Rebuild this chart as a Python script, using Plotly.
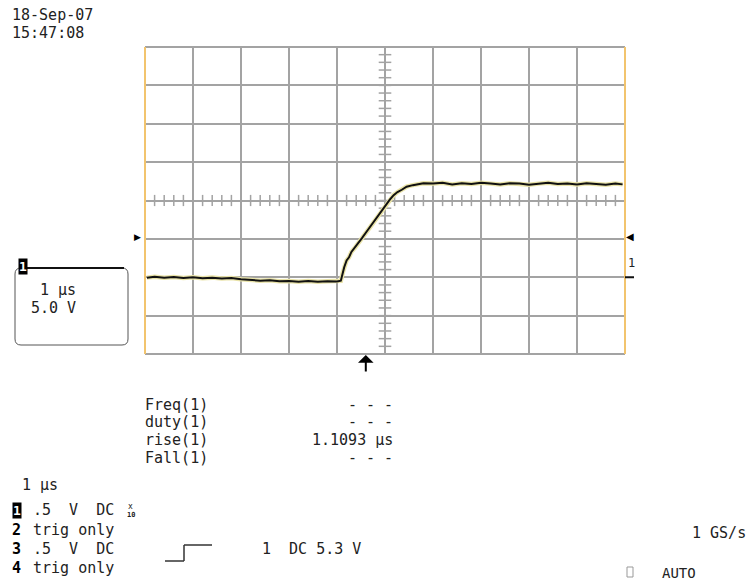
import plotly.graph_objects as go

# ---- data (time in µs, voltage in V) ----
time_us = [-4.96, -4.8, -4.6, -4.4, -4.2, -4.0, -3.8, -3.6, -3.4, -3.2, -3.0, -2.8,
           -2.6, -2.4, -2.2, -2.0, -1.8, -1.6, -1.4, -1.2, -1.0, -0.92, -0.88, -0.85,
           -0.80, -0.75, -0.70, -0.62, -0.55, -0.48, -0.40, -0.32, -0.25, -0.18, -0.10,
           -0.04, 0.02, 0.10, 0.18, 0.26, 0.35, 0.45, 0.58, 0.70, 0.80, 1.0, 1.2, 1.4,
           1.6, 1.8, 2.0, 2.2, 2.4, 2.6, 2.8, 3.0, 3.2, 3.4, 3.6, 3.8, 4.0, 4.2, 4.4,
           4.6, 4.8, 4.95]
volts = [-0.05, 0.05, -0.08, 0.02, -0.10, 0.00, -0.12, -0.05, -0.15, -0.10, -0.25, -0.35,
         -0.45, -0.40, -0.52, -0.48, -0.58, -0.50, -0.60, -0.52, -0.55, -0.45, 0.60, 1.30,
         2.20, 2.60, 3.30, 3.90, 4.50, 5.10, 5.80, 6.50, 7.00, 7.70, 8.40,
         9.00, 9.50, 10.10, 10.70, 11.10, 11.40, 11.80, 12.00, 12.15, 12.25, 12.20, 12.30, 12.10,
         12.25, 12.15, 12.30, 12.20, 12.10, 12.25, 12.20, 12.05, 12.20, 12.30, 12.15, 12.20, 12.10, 12.25, 12.15,
         12.05, 12.20, 12.10]

time_range = [-5, 5]          # 1 µs/div, 10 divisions
volt_range = [-10, 30]        # 5 V/div, 8 divisions, ground 2 div below centre
trigger_level = 5.3
trigger_time = -0.4

minor_x = [round(-5 + 0.2 * i, 2) for i in range(51)]
minor_y = [round(-10 + 1.0 * i, 2) for i in range(41)]

FONT = "DejaVu Sans Mono"
FS = 15
GRID = "#a3a3a3"
EDGE = "#f2c46e"

# plot area in pixels
L, R, T, B = 145, 625, 47, 354
W, H = 750, 581


def px(x):
    return (x - L) / (R - L)


def py(y):
    return (B - y) / (B - T)


fig = go.Figure()

# centre-axis minor ticks
fig.add_trace(go.Scatter(x=minor_x, y=[10] * len(minor_x), mode="markers",
                         marker=dict(symbol="line-ns", size=8, line=dict(width=1.5, color=GRID)),
                         hoverinfo="skip", showlegend=False))
fig.add_trace(go.Scatter(x=[0] * len(minor_y), y=minor_y, mode="markers",
                         marker=dict(symbol="line-ew", size=9, line=dict(width=1.5, color=GRID)),
                         hoverinfo="skip", showlegend=False))

# waveform (yellowish halo + black trace)
fig.add_trace(go.Scatter(x=time_us, y=volts, mode="lines",
                         line=dict(color="#e9e3a8", width=4.5), hoverinfo="skip", showlegend=False))
fig.add_trace(go.Scatter(x=time_us, y=volts, mode="lines",
                         line=dict(color="#111111", width=2), showlegend=False))

shapes = []
# borders
shapes.append(dict(type="line", xref="paper", yref="paper", x0=0, x1=1, y0=1, y1=1,
                   line=dict(color=GRID, width=2)))
shapes.append(dict(type="line", xref="paper", yref="paper", x0=0, x1=1, y0=0, y1=0,
                   line=dict(color=GRID, width=2)))
shapes.append(dict(type="line", xref="paper", yref="paper", x0=0, x1=0, y0=0, y1=1,
                   line=dict(color=EDGE, width=2)))
shapes.append(dict(type="line", xref="paper", yref="paper", x0=1, x1=1, y0=0, y1=1,
                   line=dict(color=EDGE, width=2)))

# channel box with rounded corners
bx0, bx1, by0, by1, r = 15, 128, 268, 345, 6
path = (f"M {px(bx0 + r)} {py(by0)} L {px(bx1 - r)} {py(by0)} "
        f"Q {px(bx1)} {py(by0)} {px(bx1)} {py(by0 + r)} "
        f"L {px(bx1)} {py(by1 - r)} Q {px(bx1)} {py(by1)} {px(bx1 - r)} {py(by1)} "
        f"L {px(bx0 + r)} {py(by1)} Q {px(bx0)} {py(by1)} {px(bx0)} {py(by1 - r)} "
        f"L {px(bx0)} {py(by0 + r)} Q {px(bx0)} {py(by0)} {px(bx0 + r)} {py(by0)} Z")
shapes.append(dict(type="path", xref="paper", yref="paper", path=path,
                   line=dict(color="#555555", width=1)))
shapes.append(dict(type="line", xref="paper", yref="paper", x0=px(26), x1=px(124), y0=py(268), y1=py(268),
                   line=dict(color="#111111", width=2)))

# trigger step symbol
for (x0, y0, x1, y1) in [(165, 561, 184, 561), (184, 561, 184, 545), (184, 545, 212, 545)]:
    shapes.append(dict(type="line", xref="paper", yref="paper", x0=px(x0), y0=py(y0), x1=px(x1), y1=py(y1),
                       line=dict(color="#333333", width=1.5)))
# ground marker dash on right
shapes.append(dict(type="line", xref="paper", yref="y", x0=px(625), x1=px(634), y0=0, y1=0,
                   line=dict(color="#111111", width=2)))
# AUTO box
shapes.append(dict(type="rect", xref="paper", yref="paper", x0=px(627), x1=px(633), y0=py(567), y1=py(577),
                   line=dict(color="#999999", width=1)))

ann = []


def txt(x, y, s, anchor="left", size=FS, bold=False, color="#222222", bg=None):
    d = dict(x=px(x), y=py(y), xref="paper", yref="paper", text=f"<b>{s}</b>" if bold else s,
             showarrow=False, xanchor=anchor, yanchor="middle",
             font=dict(family=FONT, size=size, color=color))
    if bg:
        d["bgcolor"] = bg
        d["borderpad"] = 0
    ann.append(d)


txt(10, 15, "18-Sep-07")
txt(10, 33, "15:47:08")
# channel box
txt(18, 266, "1", size=13, bold=True, color="#ffffff", bg="#000000")
txt(78, 290, "1 µs", anchor="right")
txt(78, 308, "5.0 V", anchor="right")
# measurements
for i, (lab, val) in enumerate([("Freq(1)", "- - -"), ("duty(1)", "- - -"),
                                ("rise(1)", "1.1093 µs"), ("Fall(1)", "- - -")]):
    yy = 405 + 17.5 * i
    txt(143, yy, lab)
    txt(395, yy, val, anchor="right")
# bottom status
txt(20, 485, "1 µs")
rows = [("1", ".5  V  DC"), ("2", "trig only"), ("3", ".5  V  DC"), ("4", "trig only")]
row_y = [510, 530, 549, 568]
for (n, s), yy in zip(rows, row_y):
    if n == "1":
        txt(12, yy, n, size=13, bold=True, color="#ffffff", bg="#000000")
    else:
        txt(10, yy, n, bold=True, color="#000000")
    txt(31, yy, s)
txt(126, 506, "x", size=8)
txt(125, 515, "10", size=7, bold=True)
txt(260, 549, "1  DC 5.3 V")
txt(748, 533, "1 GS/s", anchor="right")
txt(660, 573, "AUTO", size=14)
# right side channel label
txt(626, 263, "1", size=12)

# trigger level arrows
ann.append(dict(x=px(143), y=trigger_level, xref="paper", yref="y", text="▶", showarrow=False,
                xanchor="right", yanchor="middle", font=dict(family="DejaVu Sans", size=9, color="#000000")))
ann.append(dict(x=px(624), y=trigger_level, xref="paper", yref="y", text="◀", showarrow=False,
                xanchor="left", yanchor="middle", font=dict(family="DejaVu Sans", size=10, color="#000000")))
# trigger time arrow
ann.append(dict(x=trigger_time, y=py(355), xref="x", yref="paper", ax=0, ay=18,
                text="", showarrow=True, arrowhead=1, arrowsize=1.3,
                arrowwidth=2, arrowcolor="#000000"))

fig.update_layout(
    width=W, height=H,
    margin=dict(l=L, r=W - R, t=T, b=H - B),
    paper_bgcolor="white", plot_bgcolor="white",
    shapes=shapes, annotations=ann, showlegend=False,
    xaxis=dict(range=time_range, dtick=1, tick0=0, showgrid=True, gridcolor=GRID, gridwidth=2,
               showticklabels=False, ticks="", zeroline=False, fixedrange=True),
    yaxis=dict(range=volt_range, dtick=5, tick0=0, showgrid=True, gridcolor=GRID, gridwidth=2,
               showticklabels=False, ticks="", zeroline=False, fixedrange=True),
)

fig.write_html("out.html")
